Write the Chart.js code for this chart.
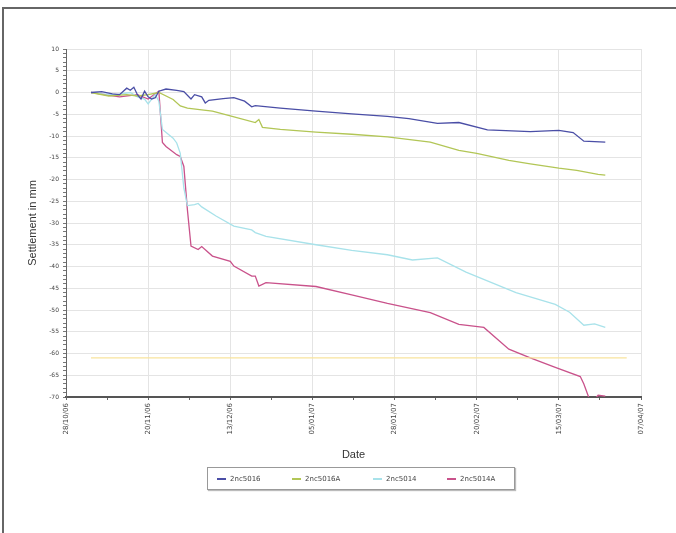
<!DOCTYPE html>
<html>
<head>
<meta charset="utf-8">
<script src="https://cdn.jsdelivr.net/npm/chart.js@4.4.1/dist/chart.umd.min.js"></script>
<style>
  html, body { margin: 0; padding: 0; background: #fff; }
  #frame {
    position: absolute; left: 2px; top: 7px; width: 676px; height: 530px;
    border-left: 2px solid #666; border-top: 2px solid #666; box-sizing: border-box;
  }
  #wrap { position: absolute; left: 0; top: 0; width: 676px; height: 533px; }
  #legend {
    position: absolute; left: 207px; top: 467px; width: 306px; height: 21px;
    border: 1px solid #999; box-shadow: 1px 1px 1px #bbb;
    font: 7px "DejaVu Sans", sans-serif; color: #444;
  }
  .item { position: absolute; top: 7px; white-space: nowrap; }
  .swatch { display: inline-block; width: 9px; height: 2px; vertical-align: middle; margin-right: 4px; }
</style>
</head>
<body>
<div id="frame"></div>
<div id="wrap"><canvas id="chart" width="676" height="533"></canvas></div>
<div id="legend"></div>
<script>
// days since 28/10/06
const dateLabels = ['28/10/06', '20/11/06', '13/12/06', '05/01/07', '28/01/07', '20/02/07', '15/03/07', '07/04/07'];

const blueDays = [7, 10, 13, 15, 17, 18, 19, 20, 21, 22, 23, 24, 25, 26, 28, 31, 33, 35, 36, 38, 39, 40, 44, 47, 50, 52, 53, 60, 70, 80, 90, 96, 104, 110, 118, 130, 138, 142, 145, 151];
const blueValues = [0, 0.2, -0.3, -0.5, 1.0, 0.5, 1.2, -0.5, -1.5, 0.3, -1.0, -1.5, -1.2, 0.3, 0.8, 0.5, 0.2, -1.5, -0.5, -1.0, -2.4, -1.8, -1.4, -1.2, -2.0, -3.3, -3.0, -3.6, -4.3, -4.9, -5.5, -6.0, -7.1, -6.9, -8.6, -9.0, -8.7, -9.2, -11.2, -11.4];

const greenDays = [7, 12, 17, 20, 23, 26, 30, 32, 34, 38, 41, 46, 53, 54, 55, 60, 70, 80, 90, 102, 110, 115, 124, 130, 138, 143, 149, 151];
const greenValues = [0, -0.8, -0.5, -0.8, -0.5, 0, -1.6, -3.1, -3.6, -4.0, -4.3, -5.4, -6.9, -6.2, -8.0, -8.5, -9.1, -9.6, -10.2, -11.4, -13.3, -14.0, -15.6, -16.4, -17.4, -17.9, -18.8, -19.0];

const cyanDays = [7, 10, 14, 18, 20, 22, 23, 24, 25, 26, 27, 30, 31, 32, 33, 34, 36, 37, 38, 42, 47, 52, 53, 56, 70, 80, 90, 97, 104, 112, 126, 137, 141, 145, 148, 151];
const cyanValues = [0, -0.3, -0.5, 0, -1.0, -1.5, -2.6, -1.5, -0.5, -2.0, -8.5, -10.5, -11.6, -14, -22, -26, -25.8, -25.5, -26.3, -28.4, -30.7, -31.6, -32.2, -33.1, -35.0, -36.3, -37.3, -38.5, -38.0, -41.3, -46.0, -48.7, -50.5, -53.5, -53.2, -54.0];

const pinkDays = [7, 15, 20, 23, 25, 26, 27, 28, 31, 32, 33, 34, 35, 37, 38, 41, 46, 47, 52, 53, 54, 56, 70, 80, 90, 102, 110, 117, 124, 130, 137, 144, 145, 147, 149, 151];
const pinkValues = [0, -1.0, -0.5, -1.5, -0.3, 0.3, -11.5, -12.4, -14.3, -14.7, -17.0, -27.0, -35.3, -36.1, -35.4, -37.6, -38.8, -39.9, -42.2, -42.2, -44.5, -43.7, -44.6, -46.5, -48.5, -50.6, -53.3, -54.0, -59.0, -61.0, -63.2, -65.3, -67.0, -71.5, -69.6, -69.8];

const limitDays = [7, 157];
const limitValues = [-61, -61];

const seriesNames = ['2nc5016', '2nc5016A', '2nc5014', '2nc5014A'];
const seriesColors = ['#4a4ea6', '#b2c656', '#a8e2ea', '#c9528b'];

function points(days, values) {
  return days.map((d, i) => ({ x: d, y: values[i] }));
}

function makeLine(label, days, values, color) {
  return {
    label,
    data: points(days, values),
    borderColor: color,
    backgroundColor: color,
    borderWidth: 1.3,
    pointRadius: 0,
    tension: 0,
    fill: false
  };
}

function renderLegend() {
  const legend = document.getElementById('legend');
  const lefts = [9, 84, 165, 239];
  legend.innerHTML = seriesNames
    .map(
      (name, i) => `<span class="item" style="left:${lefts[i]}px"><span class="swatch" style="background:${seriesColors[i]}"></span>${name}</span>`
    )
    .join('');
}

const dateLabelPlugin = {
  id: 'dateLabels',
  afterDraw(chart) {
    const scale = chart.scales.x;
    const ctx = chart.ctx;
    ctx.save();
    ctx.fillStyle = '#444';
    ctx.font = '7px "DejaVu Sans", sans-serif';
    ctx.textAlign = 'right';
    ctx.textBaseline = 'middle';
    dateLabels.forEach((label, i) => {
      const x = scale.getPixelForValue(i * 23);
      ctx.save();
      ctx.translate(x, scale.top + 6);
      ctx.rotate(-Math.PI / 2);
      ctx.fillText(label, 0, 0);
      ctx.restore();
    });
    ctx.restore();
  }
};

const isMajorX = (v) => Math.round(v / 11.5) % 2 === 0;
const isMajorY = (v) => Math.round(v) % 5 === 0;

renderLegend();

new Chart(document.getElementById('chart'), {
  type: 'line',
  data: {
    datasets: [
      makeLine('limit', limitDays, limitValues, '#f8e39c'),
      makeLine(seriesNames[0], blueDays, blueValues, seriesColors[0]),
      makeLine(seriesNames[1], greenDays, greenValues, seriesColors[1]),
      makeLine(seriesNames[2], cyanDays, cyanValues, seriesColors[2]),
      makeLine(seriesNames[3], pinkDays, pinkValues, seriesColors[3])
    ]
  },
  options: {
    responsive: false,
    animation: false,
    layout: { padding: { left: 26, top: 49, right: 35, bottom: 71 } },
    plugins: {
      legend: { display: false },
      tooltip: { enabled: false }
    },
    scales: {
      x: {
        type: 'linear',
        min: 0,
        max: 161,
        afterFit: (scale) => { scale.height = 65; },
        border: { color: '#555', width: 2 },
        grid: {
          color: (c) => (isMajorX(c.tick.value) ? '#e4e4e4' : 'rgba(0,0,0,0)'),
          tickColor: '#666',
          tickLength: 3
        },
        ticks: {
          stepSize: 11.5,
          autoSkip: false,
          color: 'rgba(0,0,0,0)',
          font: { size: 7 },
          maxRotation: 0,
          callback: () => ''
        },
        title: {
          display: true,
          text: 'Date',
          color: '#333',
          font: { family: 'Liberation Sans', size: 11 },
          padding: { top: 0, bottom: 0 }
        }
      },
      y: {
        min: -70,
        max: 10,
        afterFit: (scale) => { scale.width = 40; },
        border: { color: '#666', width: 1 },
        grid: {
          color: (c) => (isMajorY(c.tick.value) ? '#e4e4e4' : 'rgba(0,0,0,0)'),
          tickColor: '#777',
          tickLength: 3
        },
        ticks: {
          stepSize: 1,
          autoSkip: false,
          color: '#444',
          padding: 4,
          font: { family: 'DejaVu Sans', size: 6 },
          callback: (v) => (isMajorY(v) ? String(v) : '')
        },
        title: {
          display: true,
          text: 'Settlement in mm',
          color: '#333',
          font: { family: 'Liberation Sans', size: 11 },
          padding: { top: 0, bottom: 4 }
        }
      }
    }
  },
  plugins: [dateLabelPlugin]
});
</script>
</body>
</html>
